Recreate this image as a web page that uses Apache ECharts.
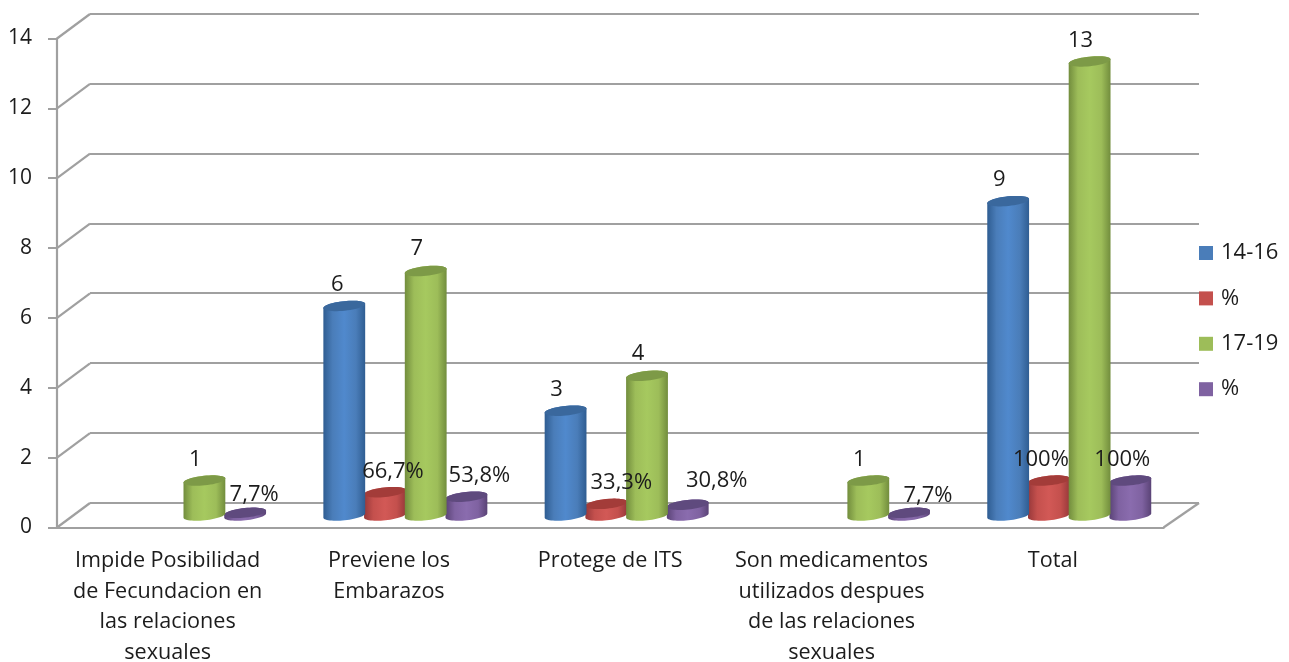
<!DOCTYPE html>
<html>
<head>
<meta charset="utf-8">
<style>html,body{margin:0;padding:0;background:#fff}#chart{width:1289px;height:662px}</style>
<script src="https://cdn.jsdelivr.net/npm/echarts@6/dist/echarts.min.js"></script>
</head>
<body>
<div id="chart"></div>
<script>
// Reported reasons by age group: counts and share of each group's total
const categories = [
  'Impide Posibilidad\nde Fecundacion en\nlas relaciones\nsexuales',
  'Previene los\nEmbarazos',
  'Protege de ITS',
  'Son medicamentos\nutilizados despues\nde las relaciones\nsexuales',
  'Total'
];
const count1416 = [null, 6, 3, null, 9];
const share1416 = [null, 0.667, 0.333, null, 1];
const count1719 = [1, 7, 4, 1, 13];
const share1719 = [0.077, 0.538, 0.308, 0.077, 1];
const yTicks = [0, 2, 4, 6, 8, 10, 12, 14];

const FONT = '"Open Sans"';
const TEXT = '#1c1c1c';
const LINE = '#a0a0a0';
const DEPTH = { dx: 33, dy: -24.5 };
const BAR_SHIFT = { dx: 16.4, dy: -12 };
const TILT = 6 * Math.PI / 180;

function fmtCount(v) { return String(v); }
function fmtShare(v) { return v === 1 ? '100%' : (v * 100).toFixed(1).replace('.', ',') + '%'; }

function ellipsePoints(cx, cy, rx, ry, from, to, steps) {
  const pts = [];
  for (let i = 0; i <= steps; i++) {
    const t = from + (to - from) * i / steps;
    const ex = rx * Math.cos(t), ey = ry * Math.sin(t);
    pts.push([cx + ex * Math.cos(TILT) + ey * Math.sin(TILT),
              cy - ex * Math.sin(TILT) + ey * Math.cos(TILT)]);
  }
  return pts;
}

// One cylinder per data point; slot is the bar's position inside the category
function cylinderSeries(name, values, slot, tone, fmt, nudges) {
  const data = values.map((v, i) => (v === null ? null : [i, v])).filter(Boolean);
  return {
    type: 'custom',
    name: name,
    xAxisIndex: 1,
    yAxisIndex: 1,
    encode: { x: 0, y: 1 },
    itemStyle: { color: tone.base },
    data: data,
    renderItem(params, api) {
      const cat = api.value(0), val = api.value(1);
      const band = api.size([1, 0])[0];
      const top = api.coord([cat, val]);
      const bottom = api.coord([cat, 0]);
      const pitch = band * 0.184;
      const cx = top[0] + BAR_SHIFT.dx + (slot - 1.5) * pitch;
      const topY = top[1] + BAR_SHIFT.dy;
      const baseY = bottom[1] + BAR_SHIFT.dy;
      const rx = band * 0.095, ry = 4.8;
      const body = ellipsePoints(cx, baseY, rx, ry, 0, Math.PI, 28)
        .concat(ellipsePoints(cx, topY, rx, ry, Math.PI, 2 * Math.PI, 28));
      const nudge = nudges[cat];
      return {
        type: 'group',
        children: [
          {
            type: 'polygon',
            shape: { points: body },
            style: {
              fill: new echarts.graphic.LinearGradient(0, 0, 1, 0, [
                { offset: 0, color: tone.edge },
                { offset: 0.22, color: tone.base },
                { offset: 0.5, color: tone.light },
                { offset: 0.78, color: tone.base },
                { offset: 1, color: tone.edge }
              ])
            }
          },
          {
            type: 'polygon',
            shape: { points: ellipsePoints(cx, topY, rx, ry, 0, 2 * Math.PI, 48) },
            style: { fill: tone.cap }
          },
          {
            type: 'text',
            z2: 50,
            style: {
              text: fmt(val),
              x: cx + nudge[0],
              y: topY + nudge[1],
              align: 'center',
              verticalAlign: 'middle',
              fontFamily: FONT,
              fontSize: 22,
              fill: TEXT
            }
          }
        ]
      };
    }
  };
}

const blue = { base: '#4a7db9', light: '#5089cd', edge: '#2f5d92', cap: '#3a689d' };
const red = { base: '#c4504d', light: '#d25956', edge: '#97383a', cap: '#a33c39' };
const green = { base: '#9dbd59', light: '#a6c95f', edge: '#728d3d', cap: '#7d9a47' };
const purple = { base: '#7f62a1', light: '#8a6cae', edge: '#5a4376', cap: '#5f4a7e' };

// Label offsets from each cylinder's top, per category
const nudgeCountA = [null, [-7, -21], [-9, -21], null, [-9, -21]];
const nudgeShareA = [null, [8, -20], [15, -21], null, [-8, -21]];
const nudgeCountB = [[-9, -21], [-9, -22], [-9, -22], [-9, -21], [-9, -21]];
const nudgeShareB = [[9, -18], [13, -21], [29, -24], [19, -17], [-8, -21]];

const option = {
  backgroundColor: '#fff',
  animation: false,
  grid: [
    { left: 90, top: 13.5, width: 1109, height: 489.5, outerBoundsMode: 'none' },
    { left: 57, top: 38.5, width: 1106.5, height: 489, outerBoundsMode: 'none' }
  ],
  xAxis: [
    { gridIndex: 0, type: 'category', data: categories, show: false },
    {
      gridIndex: 1,
      type: 'category',
      data: categories,
      axisLine: { lineStyle: { color: LINE, width: 2.2 } },
      axisTick: { length: 6, lineStyle: { color: LINE, width: 2 } },
      axisLabel: {
        interval: 0,
        margin: 18,
        fontFamily: FONT,
        fontSize: 21.6,
        lineHeight: 30.6,
        color: TEXT,
        align: 'center'
      }
    }
  ],
  yAxis: [
    {
      gridIndex: 0,
      type: 'value',
      min: 0,
      max: 14,
      interval: 2,
      axisLine: { show: false },
      axisTick: { show: false },
      axisLabel: { show: false },
      splitLine: { lineStyle: { color: LINE, width: 2.2 } }
    },
    {
      gridIndex: 1,
      type: 'value',
      min: 0,
      max: 14,
      interval: 2,
      splitLine: { show: false },
      axisLine: { show: true, lineStyle: { color: LINE, width: 2.2 } },
      axisTick: { show: true, length: 9, lineStyle: { color: LINE, width: 2 } },
      axisLabel: { margin: 25, fontFamily: FONT, fontSize: 21, color: TEXT, padding: [6, 0, 0, 0] }
    }
  ],
  legend: {
    orient: 'vertical',
    left: 1199,
    top: 242,
    padding: 0,
    itemWidth: 14,
    itemHeight: 14,
    itemGap: 23.4,
    icon: 'rect',
    data: ['14-16', '%', '17-19', '% '],
    formatter: (n) => n.trim(),
    textStyle: { fontFamily: FONT, fontSize: 22, lineHeight: 20, color: TEXT, padding: [0, 0, 0, 3] }
  },
  series: [
    {
      // Receding edges joining the front axis to the back wall
      type: 'custom',
      silent: true,
      xAxisIndex: 1,
      yAxisIndex: 1,
      encode: { y: 1 },
      data: yTicks.map((t) => [0, t]),
      renderItem(params, api) {
        const v = api.value(1);
        const y = api.coord([0, v])[1];
        const rect = params.coordSys;
        const mk = (x) => ({
          type: 'line',
          shape: { x1: x, y1: y, x2: x + DEPTH.dx, y2: y + DEPTH.dy },
          style: { stroke: LINE, lineWidth: 2.2 }
        });
        const kids = [mk(rect.x)];
        if (v === 0) {
          const right = mk(rect.x + rect.width);
          right.shape.x2 += 2.5;
          kids.push(right);
        }
        return { type: 'group', children: kids };
      }
    },
    // The taller cylinders sit in front of their shorter neighbours
    cylinderSeries('%', share1416, 1, red, fmtShare, nudgeShareA),
    cylinderSeries('% ', share1719, 3, purple, fmtShare, nudgeShareB),
    cylinderSeries('14-16', count1416, 0, blue, fmtCount, nudgeCountA),
    cylinderSeries('17-19', count1719, 2, green, fmtCount, nudgeCountB)
  ]
};

echarts.init(document.getElementById('chart'), null, { renderer: 'canvas' }).setOption(option);
</script>
</body>
</html>
